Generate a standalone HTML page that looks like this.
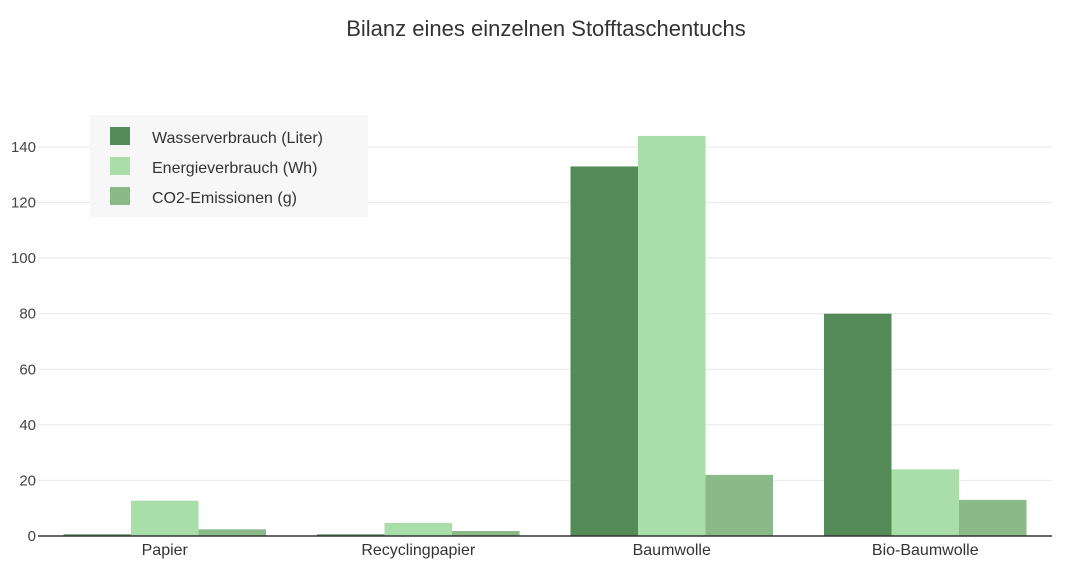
<!DOCTYPE html>
<html><head><meta charset="utf-8"><style>
body{margin:0;background:#fff;font-family:"Liberation Sans",sans-serif}
svg text{font-family:"Liberation Sans",sans-serif}
</style></head><body>
<svg id="chart" width="1068" height="567" xmlns="http://www.w3.org/2000/svg">
<text x="546" y="36" text-anchor="middle" font-size="22" fill="#333">Bilanz eines einzelnen Stofftaschentuchs</text>
<g id="grid"></g><g id="bars"></g><g id="xlabels"></g>
<line x1="38" x2="1052" y1="536" y2="536" stroke="#333" stroke-width="1.5"/>
<g>
<rect x="90" y="115" width="278" height="102" fill="#f7f7f7"/>
<rect x="110" y="127" width="20" height="18" fill="#548a57"/>
<text x="152" y="143" font-size="16" fill="#333">Wasserverbrauch (Liter)</text>
<rect x="110" y="157" width="20" height="18" fill="#aadea8"/>
<text x="152" y="173" font-size="16" fill="#333">Energieverbrauch (Wh)</text>
<rect x="110" y="187" width="20" height="18" fill="#8aba88"/>
<text x="152" y="203" font-size="16" fill="#333">CO2-Emissionen (g)</text>
</g>
</svg>
<script>
const categories=["Papier","Recyclingpapier","Baumwolle","Bio-Baumwolle"];
const water=[0.6,0.6,133,80];
const energy=[12.7,4.7,144,24];
const co2=[2.4,1.8,22,13];
const yTicks=[0,20,40,60,80,100,120,140];
const ns="http://www.w3.org/2000/svg";
const x0=38,x1=1052,y0=536,pxPerUnit=(536-147)/140;
const y=v=>y0-v*pxPerUnit;
const band=(x1-x0)/categories.length;
const bw=67.5;
const grid=document.getElementById('grid'),bars=document.getElementById('bars'),xl=document.getElementById('xlabels');
function mk(t,a){const e=document.createElementNS(ns,t);for(const k in a)e.setAttribute(k,a[k]);return e;}
yTicks.forEach(t=>{
 if(t>0){const l=mk('line',{x1:x0,x2:x1,y1:y(t),y2:y(t),stroke:'#e8e8e8'});
 
 grid.appendChild(l);}
 const tx=mk('text',{x:x0-2,y:y(t)+5,'text-anchor':'end','font-size':15,fill:'#444'});
 tx.textContent=t;
 
 grid.appendChild(tx);
});
const series=[[water,'#548a57','water'],[energy,'#aadea8','energy'],[co2,'#8aba88','co2']];
categories.forEach((c,i)=>{
 const cx=x0+band*(i+0.5);
 series.forEach((s,j)=>{
  const v=s[0][i];
  const r=mk('rect',{x:cx-1.5*bw+j*bw,y:y(v),width:bw,height:v*pxPerUnit,fill:s[1]});
  
  
  bars.appendChild(r);
 });
 const t=mk('text',{x:cx,y:555,'text-anchor':'middle','font-size':16,fill:'#333'});
 t.textContent=c;
 
 
 xl.appendChild(t);
});
</script>
</body></html>
